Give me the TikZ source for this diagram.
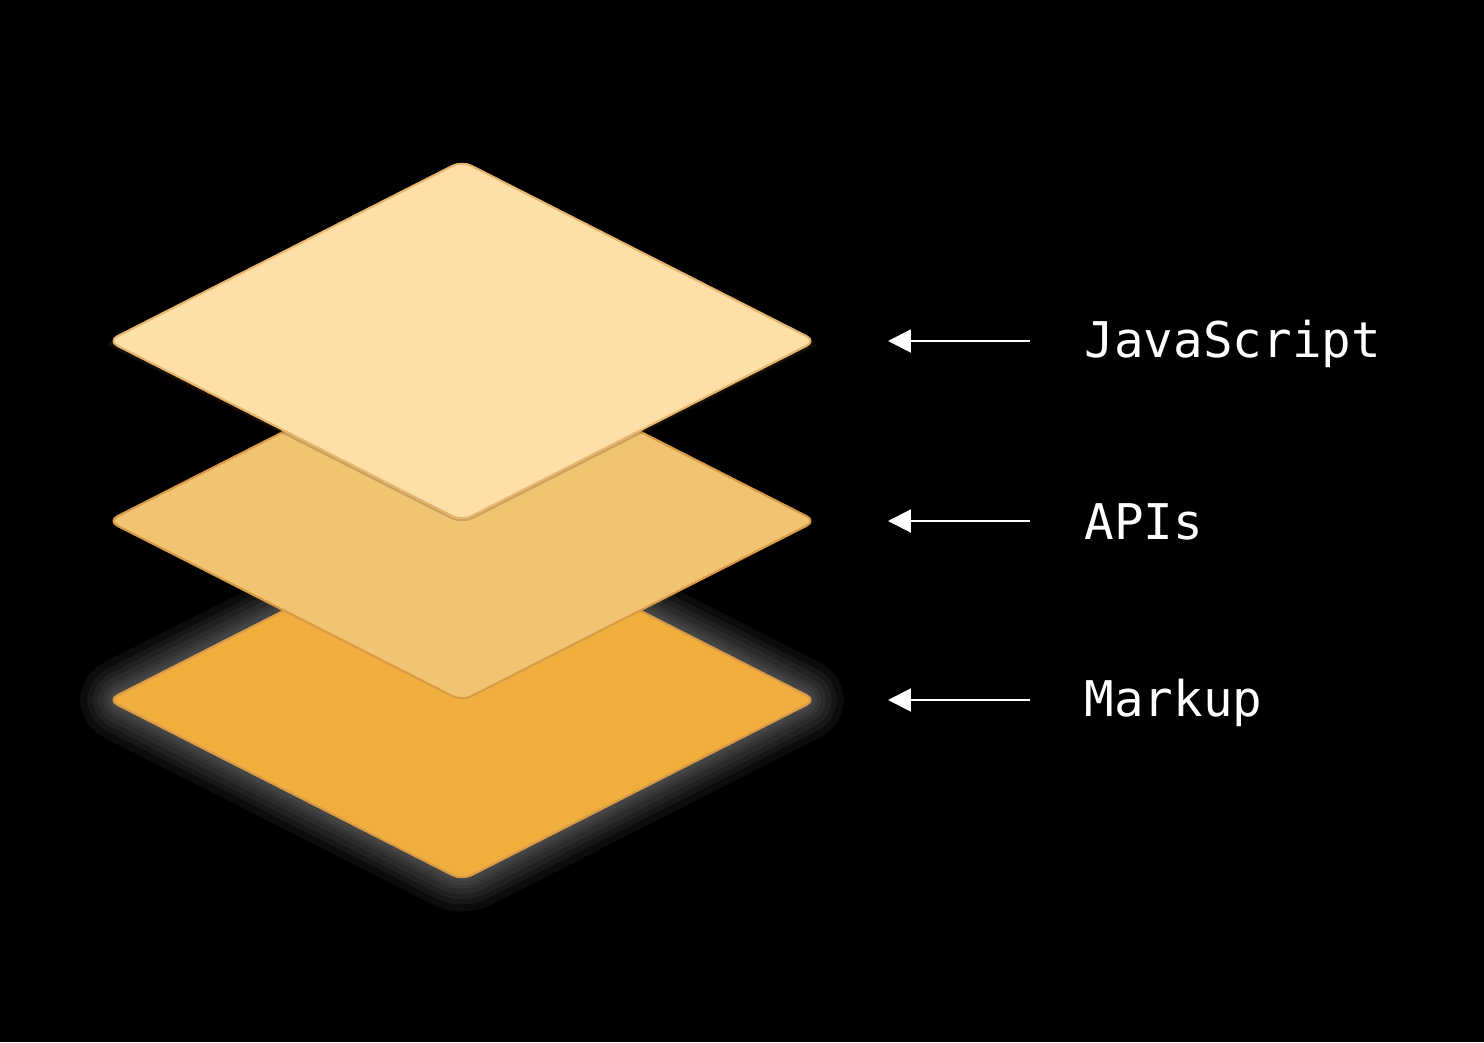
\documentclass[tikz,border=0pt]{standalone}
\usepackage{fontspec}
\setmonofont{DejaVu Sans Mono}
\usetikzlibrary{arrows.meta}
\definecolor{topc}{HTML}{FDDFA7}
\definecolor{midc}{HTML}{F0C473}
\definecolor{botc}{HTML}{F0AE3E}
\definecolor{edgec}{HTML}{D99A45}
\tikzset{
  layer/.style={line width=0.6pt, rounded corners=3pt, line join=round},
  glow/.style={draw=white!80!black, line width=#1, opacity=0.06, rounded corners=4pt, line join=round},
  label/.style={anchor=base west, text=white, font=\ttfamily\fontsize{14pt}{14pt}\selectfont, inner sep=0pt},
  pointer/.style={draw=white, line width=0.6pt, -{Triangle[length=6.5pt,width=6.5pt]}},
}
\newcommand{\layerpath}[2]{(#1-3.54,#2) -- (#1,#2+1.80) -- (#1+3.54,#2) -- (#1,#2-1.80) -- cycle}
\begin{document}
\begin{tikzpicture}[x=1cm,y=1cm]
\fill[black] (0,0) rectangle (14.84,10.42);
\useasboundingbox (0,0) rectangle (14.84,10.42);
% glow of bottom layer
\foreach \w in {20pt,16pt,13pt,10pt,7pt,5pt,3pt} {
  \draw[glow=\w] \layerpath{4.62}{3.42};
}
% bottom layer
\filldraw[layer, fill=botc, draw=edgec] \layerpath{4.62}{3.42};
\coordinate (bot) at (8.88,3.42);
% middle layer
\filldraw[layer, fill=midc, draw=edgec] \layerpath{4.62}{5.21};
\coordinate (mid) at (8.88,5.21);
% top layer shadow
\draw[line width=1.5pt, draw=black!60!edgec, opacity=0.25, rounded corners=3pt] (1.09,6.99) -- (4.62,5.205) -- (8.15,6.99);
\filldraw[layer, fill=topc, draw=edgec!60!topc] \layerpath{4.62}{7.01};
\coordinate (top) at (8.88,7.01);
% labels
\node[label] (js) at (10.84,6.84) {JavaScript};
\node[label] (api) at (10.84,5.02) {APIs};
\node[label] (mk) at (10.84,3.25) {Markup};
\coordinate (jsS) at (10.30,7.01);
\coordinate (apiS) at (10.30,5.21);
\coordinate (mkS) at (10.30,3.42);
\draw[pointer] (jsS) -- (top);
\draw[pointer] (apiS) -- (mid);
\draw[pointer] (mkS) -- (bot);
\end{tikzpicture}
\end{document}
